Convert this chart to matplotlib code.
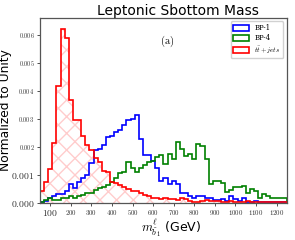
import numpy as np
import matplotlib
matplotlib.use("Agg")
import matplotlib.pyplot as plt

plt.rcParams['mathtext.fontset'] = 'cm'

# bin edges, 20 GeV bins from 50 to 1250 GeV
edges = np.arange(50, 1251, 20)

# normalized bin contents (x 1e-3)
bp1 = [0.03, 0.07, 0.16, 0.22, 0.30, 0.30, 0.40, 0.67, 0.51, 0.73,
       0.89, 0.99, 1.40, 1.87, 1.91, 2.05, 2.35, 2.38, 2.52, 2.58,
       2.78, 2.94, 3.00, 3.14, 2.29, 1.70, 1.70, 1.48, 1.25, 0.77,
       0.88, 0.67, 0.76, 0.67, 0.35, 0.35, 0.23, 0.18, 0.23, 0.23,
       0.18, 0.18, 0.09, 0.09, 0.11, 0.07, 0.23, 0.11, 0.07, 0.15,
       0.03, 0.03, 0.07, 0.01, 0.03, 0.01, 0.01, 0.02, 0.03, 0.01]
bp4 = [0.02, 0.10, 0.18, 0.10, 0.10, 0.16, 0.18, 0.22, 0.16, 0.22,
       0.28, 0.34, 0.34, 0.46, 0.51, 0.57, 0.63, 0.73, 0.89, 1.05,
       1.10, 1.44, 1.22, 1.08, 1.25, 1.36, 1.44, 1.48, 1.63, 1.71,
       1.39, 1.74, 1.57, 2.16, 1.92, 1.68, 1.72, 1.57, 2.10, 2.04,
       1.57, 0.68, 0.77, 0.77, 0.70, 0.38, 0.44, 0.54, 0.56, 0.58,
       0.33, 0.47, 0.41, 0.18, 0.30, 0.23, 0.15, 0.18, 0.15, 0.18]
ttbar = [0.41, 0.72, 1.19, 2.12, 4.18, 6.21, 5.89, 3.68, 2.97, 2.97,
         2.38, 2.07, 1.87, 1.58, 1.46, 1.13, 1.08, 0.75, 0.69, 0.63,
         0.57, 0.49, 0.40, 0.40, 0.34, 0.28, 0.24, 0.18, 0.18, 0.12,
         0.15, 0.11, 0.11, 0.09, 0.15, 0.11, 0.07, 0.03, 0.03, 0.07,
         0.09, 0.07, 0.07, 0.07, 0.03, 0.03, 0.07, 0.03, 0.03, 0.02,
         0.04, 0.03, 0.03, 0.02, 0.03, 0.02, 0.02, 0.02, 0.01, 0.02]

centers = 0.5 * (edges[:-1] + edges[1:])
bp1 = np.array(bp1) * 1e-3
bp4 = np.array(bp4) * 1e-3
ttbar = np.array(ttbar) * 1e-3

fig = plt.figure(figsize=(2.95, 2.4), dpi=100)
ax = fig.add_axes([0.1356, 0.156, 0.837, 0.769])

ax.hist(centers, bins=edges, weights=ttbar, histtype='stepfilled',
        facecolor='none', edgecolor=(1, 0, 0, 0.2), hatch='xx', lw=0)
ax.hist(centers, bins=edges, weights=bp1, histtype='step', color='blue', lw=1.2, label='BP-1')
ax.hist(centers, bins=edges, weights=bp4, histtype='step', color='green', lw=1.2, label='BP-4')
ax.hist(centers, bins=edges, weights=ttbar, histtype='step', color='red', lw=1.2,
        label=r'$t\bar{t}+jets$')

ax.set_xlim(50, 1250)
ax.set_ylim(0, 0.0066)

xt = [100, 200, 300, 400, 500, 600, 700, 800, 900, 1000, 1100, 1200]
yt = [0.000, 0.001, 0.002, 0.003, 0.004, 0.005, 0.006]
ax.set_xticks(xt)
ax.set_yticks(yt)
ax.set_xticklabels(['$%d$' % v for v in xt], fontsize=5)
ax.set_yticklabels(['$%.3f$' % v for v in yt], fontsize=4.5)
# first labels are drawn in the plain sans font, bigger
for lab in ax.get_xticklabels()[:1] + ax.get_yticklabels()[:2]:
    lab.set_fontfamily('DejaVu Sans')
    lab.set_fontsize(7)
    lab.set_text(lab.get_text().strip('$'))
ax.tick_params(length=2.5, width=0.6, pad=1.5, colors='#333333')
for s in ax.spines.values():
    s.set_color('#555555')
    s.set_linewidth(0.9)

ax.set_title('Leptonic Sbottom Mass', fontsize=10, x=0.557, pad=2)
ax.set_ylabel('Normalized to Unity', fontsize=8.8)
ax.yaxis.set_label_coords(-0.115, 0.5)
ax.set_xlabel(r'$m_{\tilde{b}_1}^{\ell}$ (GeV)', fontsize=9)
ax.xaxis.set_label_coords(0.53, -0.075)
ax.text(0.485, 0.86, r'$\mathrm{(a)}$', transform=ax.transAxes, fontsize=7.5)

ax.legend(loc='upper right', prop={'family': 'serif', 'size': 5},
          handlelength=2.2, handleheight=0.9, borderpad=0.4, labelspacing=0.3,
          framealpha=0.9, edgecolor='#cccccc')

fig.savefig('out.png', dpi=100)
